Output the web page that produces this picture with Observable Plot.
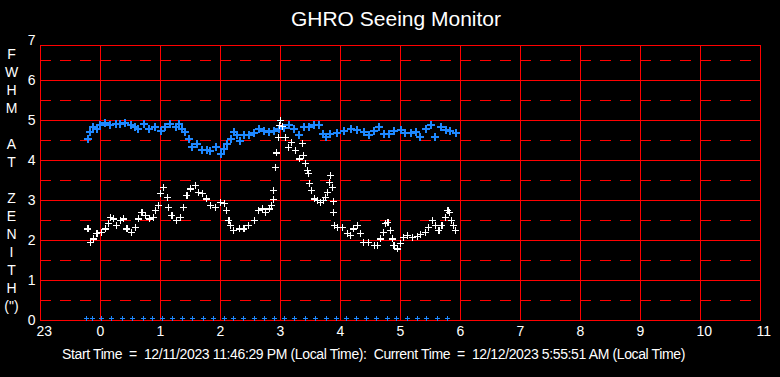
<!DOCTYPE html>
<html><head><meta charset="utf-8">
<script src="https://cdn.jsdelivr.net/npm/d3@7"></script>
<script src="https://cdn.jsdelivr.net/npm/@observablehq/plot@0.6"></script>
<style>
body{margin:0;background:#000;width:780px;height:377px;overflow:hidden;position:relative;font-family:"Liberation Sans",Arial,sans-serif;}
#chart{position:absolute;top:0;left:0;}
#title{position:absolute;top:7px;left:6px;width:780px;text-align:center;color:#fff;font-size:21px;}
#foot{position:absolute;top:346px;left:62px;color:#fff;font-size:14px;white-space:pre;}
</style></head><body>
<div id="chart"></div>
<div id="title">GHRO Seeing Monitor</div>
<div id="foot">Start Time  =  12/11/2023 11:46:29 PM (Local Time):  Current Time  =  12/12/2023 5:55:51 AM (Local Time)</div>
<script>
// hours relative to local midnight (negative = before 0h)
const blueHours = [-0.21,-0.17,-0.12,-0.06,-0.01,0.08,0.16,0.25,0.33,0.41,0.50,0.58,0.63,0.72,0.80,0.91,1.00,1.08,1.16,1.25,1.30,1.36,1.41,1.47,1.52,1.61,1.69,1.77,1.83,1.92,2.00,2.06,2.11,2.17,2.22,2.28,2.33,2.39,2.47,2.56,2.64,2.72,2.81,2.89,2.97,3.06,3.14,3.22,3.31,3.39,3.47,3.56,3.64,3.70,3.75,3.83,3.94,4.06,4.17,4.28,4.39,4.47,4.56,4.64,4.72,4.81,4.89,5.00,5.08,5.17,5.25,5.33,5.42,5.50,5.58,5.67,5.75,5.83,5.92];
const blueFwhm = [4.54,4.71,4.83,4.79,4.88,4.94,4.89,4.92,4.92,4.93,4.88,4.83,4.79,4.92,4.79,4.85,4.75,4.83,4.92,4.85,4.92,4.79,4.71,4.54,4.33,4.42,4.27,4.27,4.25,4.33,4.17,4.29,4.42,4.54,4.71,4.63,4.50,4.63,4.65,4.68,4.79,4.75,4.71,4.73,4.79,4.82,4.88,4.79,4.63,4.83,4.83,4.90,4.88,4.67,4.58,4.67,4.68,4.73,4.79,4.77,4.71,4.63,4.75,4.83,4.67,4.67,4.73,4.77,4.68,4.68,4.71,4.58,4.79,4.88,4.60,4.83,4.77,4.73,4.68];
const whiteHours = [-0.21,-0.17,-0.12,-0.06,0.02,0.08,0.13,0.17,0.22,0.27,0.33,0.38,0.44,0.51,0.58,0.63,0.69,0.75,0.81,0.88,0.92,0.96,1.00,1.05,1.11,1.13,1.19,1.27,1.33,1.38,1.44,1.50,1.58,1.63,1.70,1.77,1.83,1.92,2.00,2.06,2.10,2.14,2.17,2.22,2.31,2.39,2.47,2.56,2.64,2.70,2.75,2.82,2.85,2.88,2.89,2.92,2.93,2.96,2.98,3.00,3.03,3.08,3.14,3.19,3.25,3.31,3.36,3.39,3.42,3.45,3.47,3.48,3.52,3.56,3.61,3.67,3.72,3.75,3.78,3.81,3.83,3.86,3.88,3.89,3.90,3.95,4.03,4.11,4.17,4.22,4.28,4.33,4.39,4.47,4.56,4.61,4.67,4.71,4.75,4.79,4.83,4.86,4.89,4.95,5.00,5.05,5.11,5.20,5.28,5.33,5.42,5.47,5.53,5.58,5.64,5.69,5.75,5.79,5.82,5.85,5.88,5.92];
const whiteFwhm = [2.29,1.96,2.04,2.17,2.21,2.29,2.42,2.58,2.54,2.38,2.50,2.54,2.29,2.21,2.33,2.54,2.71,2.63,2.54,2.58,2.75,2.88,3.17,3.33,3.08,2.83,2.63,2.50,2.58,2.83,3.13,3.29,3.38,3.21,3.17,3.04,2.88,2.83,2.96,2.92,2.75,2.50,2.38,2.25,2.29,2.29,2.38,2.50,2.75,2.79,2.71,2.79,2.88,3.02,3.25,3.82,4.19,4.57,4.88,5.00,4.85,4.58,4.32,4.46,4.25,4.04,4.42,4.13,3.92,3.75,3.67,3.42,3.25,3.04,3.00,2.96,3.00,3.08,3.21,3.46,3.63,3.32,2.98,2.71,2.38,2.33,2.33,2.17,2.13,2.29,2.38,2.17,1.96,1.96,1.88,1.88,2.04,2.21,2.42,2.46,2.25,2.04,1.88,1.79,1.92,2.08,2.13,2.08,2.10,2.15,2.21,2.33,2.50,2.38,2.25,2.38,2.58,2.75,2.71,2.50,2.38,2.25];
const baseHours = [-0.23,-0.14,0.01,0.19,0.36,0.53,0.71,0.87,1.04,1.20,1.37,1.54,1.72,1.89,2.06,2.22,2.39,2.56,2.73,2.90,3.07,3.23,3.41,3.58,3.76,3.93,4.10,4.26,4.43,4.60,4.78,4.94,5.11,5.28,5.44,5.61,5.79];
const baseFwhm = baseHours.map(() => 0);
const xTicks = [-1,0,1,2,3,4,5,6,7,8,9,10,11];
const xTickLabels = ["23","0","1","2","3","4","5","6","7","8","9","10","11"];
const yTicks = [0,1,2,3,4,5,6,7];
const yHalf = [0.5,1.5,2.5,3.5,4.5,5.5,6.5];
const yTitle = "F\nW\nH\nM\n\nA\nT\n\nZ\nE\nN\nI\nT\nH\n(\")";

const blue = blueHours.map((h,i)=>({h, v: blueFwhm[i]}));
const white = whiteHours.map((h,i)=>({h, v: whiteFwhm[i]}));
const base = baseHours.map((h,i)=>({h, v: baseFwhm[i]}));

const plus = {draw(ctx, size){const r = Math.sqrt(size/Math.PI); ctx.moveTo(-r,0); ctx.lineTo(r,0); ctx.moveTo(0,-r); ctx.lineTo(0,r);}};
const RED = "#ff0000", BLUE = "#1e88ff";

const chart = Plot.plot({
  width: 780, height: 377,
  marginTop: 45, marginBottom: 57, marginLeft: 40, marginRight: 20,
  style: {background: "#000", color: "#fff", fontFamily: "'Liberation Sans', Arial, sans-serif", fontSize: "14px"},
  x: {domain: [-1, 11], axis: null},
  y: {domain: [0, 6.875], axis: null},
  marks: [
    Plot.ruleY(yHalf, {y: d=>d, x1: -1, x2: 11, stroke: RED, strokeWidth: 1, strokeDasharray: "11,9"}),
    Plot.ruleY(yTicks.filter(d=>d<7), {y: d=>d, stroke: RED, strokeWidth: 1}),
    Plot.ruleX(xTicks, {x: d=>d, stroke: RED, strokeWidth: 1}),
    Plot.frame({stroke: RED, strokeWidth: 1}),
    Plot.dot(blue, {x: "h", y: "v", symbol: plus, r: 4, stroke: BLUE, fill: "none", strokeWidth: 2}),
    Plot.dot(white, {x: "h", y: "v", symbol: plus, r: 3.5, stroke: "#fff", fill: "none", strokeWidth: 1.2}),
    Plot.dot(base, {x: "h", y: "v", symbol: plus, r: 2.5, stroke: BLUE, fill: "none", strokeWidth: 1, dy: -2}),
    Plot.text(xTicks, {x: d=>d, frameAnchor: "bottom", text: (d,i)=>xTickLabels[i], textAnchor: "start", dx: -4, dy: 11, lineAnchor: "middle", fill: "#fff", fontSize: 14}),
    Plot.text(yTicks, {y: d=>d, frameAnchor: "left", text: d=>String(d), textAnchor: "end", dx: -5, fill: "#fff", fontSize: 14}),
    Plot.text([yTitle], {frameAnchor: "left", text: d=>d, dx: -29, dy: -3.5, textAnchor: "middle", lineHeight: 18/14, fill: "#fff", fontSize: 14})
  ]
});
chart.querySelectorAll("path, line, rect").forEach(el => el.setAttribute("shape-rendering", "crispEdges"));
document.getElementById("chart").append(chart);
// fit footer to the reference's span (62..685)
const foot = document.getElementById("foot");
const n = foot.textContent.length;
const w = foot.getBoundingClientRect().width;
foot.style.letterSpacing = ((623 - w) / n) + "px";
</script>
</body></html>
